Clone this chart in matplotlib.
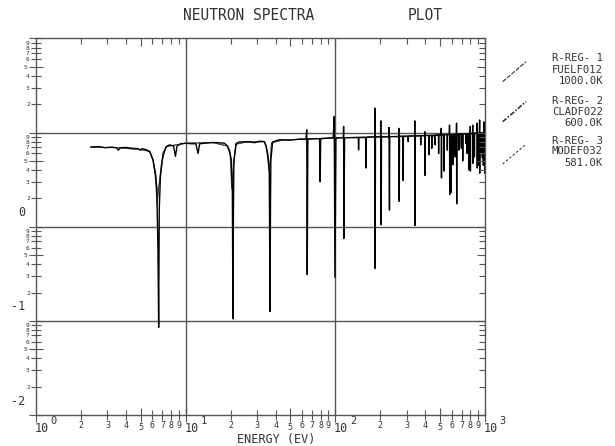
import matplotlib
matplotlib.use("Agg")
import matplotlib.pyplot as plt
from matplotlib.ticker import LogLocator, FuncFormatter
from matplotlib.lines import Line2D
import numpy as np

plt.rcParams["font.family"] = ["DejaVu Sans Mono", "DejaVu Sans"]

# region 1 (fuel) flux
energy_fuel = [
    2.33, 2.6, 2.9, 3.2, 3.45, 3.55, 3.65, 4.0, 4.4, 4.8, 5.0, 5.1, 5.4,
    5.75, 6.05, 6.31, 6.41, 6.53, 6.6, 6.66, 6.78, 7.06, 7.44, 7.8,
    8.3, 8.54, 8.76, 9.27, 10.0, 10.97, 11.7, 12.1, 12.4, 13.4, 15.6, 18.2,
    19.0, 19.6, 20.2, 20.5, 20.7, 20.85, 21.0, 21.8,
    22.9, 26.7, 28.8, 31.3, 33.6,
    34.6, 35.6, 36.2, 36.6, 36.9, 37.1, 38.1,
    42.2, 49.4, 57.5, 63.6, 64.4, 64.9, 65.5, 72.4, 78.5, 79.2, 79.8, 88.4,
    96.8, 98.3, 99.4, 100.9, 106.5, 113.2, 113.6, 114.0, 115.3,
    133.6, 142.4, 143.0, 143.6, 159.6, 160.2, 160.8, 177,
    183.2, 183.7, 184.6, 185.4, 200.5, 201.2, 202.5, 203.5,
    227.5, 228.3, 230.0, 231, 264.5, 265.5, 267, 268.5,
    283, 284, 285, 306, 307, 308, 338.5, 339.5, 341, 342.5,
    371, 372, 373, 395, 396.2, 398, 399.5, 422, 423, 424,
    440, 441, 442, 452, 463, 464, 465, 489, 490, 491,
    509, 510.2, 512, 513.5, 532, 533.2, 534.5, 559, 560, 561,
    578, 579.3, 581, 582.5, 590, 591, 592, 611, 612.2, 613.5,
    629, 630, 631, 644, 645.5, 647, 648.5, 669, 670, 671,
    694, 695, 696, 709, 710, 711, 742, 743, 744, 759, 760, 761,
    779, 780, 781, 796, 797.5, 799, 800.5, 826, 827.5, 829, 830.5,
    849, 850, 851, 885, 886.5, 888, 889.5, 904, 905, 906,
    919, 920.5, 922, 923.5, 939, 940, 941, 959, 960.2, 961.5,
    974, 975, 976, 984, 985.5, 987, 988.5, 994, 995, 996, 1000,
]
flux_fuel = [
    7.0, 7.1, 6.9, 7.0, 6.9, 6.5, 6.9, 6.95, 6.8, 6.75, 6.5, 6.75, 6.6,
    6.3, 5.1, 3.4, 2.5, 0.57, 0.085, 1.5, 3.4, 6.0, 7.1, 7.4,
    7.2, 5.6, 7.2, 7.6, 7.7, 7.6, 7.6, 6.0, 7.6, 7.7, 7.85, 7.7,
    7.2, 6.5, 5.1, 2.5, 0.105, 1.5, 5.1, 7.7,
    7.95, 8.0, 7.8, 8.1, 8.0,
    7.1, 5.1, 3.9, 0.126, 2.0, 5.1, 7.95,
    8.4, 8.3, 8.5, 8.5, 10.7, 0.31, 8.5, 8.6, 8.6, 3.0, 8.6, 8.7,
    8.8, 14.8, 0.29, 8.7, 8.8, 8.8, 11.6, 0.75, 8.8,
    8.85, 8.85, 6.55, 8.85, 8.85, 4.2, 8.9, 9.0,
    9.0, 18.2, 0.36, 9.0, 9.0, 13.3, 1.05, 9.0,
    9.0, 11.3, 1.5, 9.05, 9.05, 11.1, 1.86, 9.1,
    9.1, 3.1, 9.1, 9.1, 8.0, 9.15, 9.2, 13.3, 1.03, 9.2,
    9.2, 7.4, 9.25, 9.25, 10.2, 3.5, 9.3, 9.3, 5.8, 9.3,
    9.2, 6.8, 9.3, 9.2, 9.3, 7.4, 9.4, 9.4, 6.0, 9.4,
    9.4, 11.1, 3.3, 9.45, 9.45, 3.9, 9.5, 9.5, 6.5, 9.5,
    9.5, 12.0, 2.2, 9.5, 9.5, 2.3, 9.5, 9.5, 4.55, 9.55,
    9.55, 5.5, 9.55, 9.55, 12.6, 1.75, 9.6, 9.6, 6.5, 9.6,
    9.6, 6.8, 9.6, 9.6, 5.0, 9.6, 9.65, 7.7, 9.65, 9.65, 6.0, 9.65,
    9.7, 4.0, 9.7, 9.7, 11.6, 3.9, 9.7, 9.7, 12.0, 4.7, 9.75,
    9.75, 5.5, 9.8, 9.8, 12.6, 4.2, 9.8, 9.8, 4.5, 9.8,
    9.8, 13.6, 3.7, 9.85, 9.85, 6.0, 9.9, 9.9, 5.4, 9.9,
    9.9, 4.5, 9.9, 9.9, 13.0, 5.1, 9.95, 9.95, 3.7, 10.0, 10.0,
]

# region 2 (clad) and region 3 (moderator)
energy_clad = [2.33, 3.5, 5.0, 5.75, 6.05, 6.25, 6.45, 6.6, 6.9, 7.4, 10.0, 15.0,
               19.0, 19.8, 20.3, 20.8, 21.6, 25.0, 33.6, 35.3, 36.0, 36.5, 37.5,
               45.0, 60.0, 100.0, 200.0, 400.0, 1000.0]
flux_clad = [7.0, 6.9, 6.6, 6.3, 5.1, 3.6, 1.7, 2.6, 4.8, 7.1, 7.7, 7.85,
             7.2, 5.8, 2.5, 4.0, 7.5, 7.9, 8.0, 6.0, 3.9, 4.5, 7.8,
             8.35, 8.5, 8.8, 9.0, 9.3, 10.0]
energy_mod = [2.33, 3.5, 5.0, 5.75, 6.05, 6.3, 6.5, 6.7, 7.0, 7.4, 10.0, 15.0,
              19.0, 19.9, 20.4, 20.9, 21.6, 25.0, 33.6, 35.4, 36.1, 36.7, 37.5,
              45.0, 60.0, 100.0, 200.0, 400.0, 1000.0]
flux_mod = [7.0, 6.9, 6.6, 6.3, 5.2, 3.8, 2.1, 3.0, 5.2, 7.1, 7.7, 7.85,
            7.2, 6.0, 2.9, 4.4, 7.5, 7.9, 8.0, 6.2, 4.3, 4.9, 7.8,
            8.35, 8.5, 8.8, 9.0, 9.3, 10.0]

regions = ["R-REG- 1", "R-REG- 2", "R-REG- 3"]
materials = ["FUELF012", "CLADF022", "MODEF032"]
temps = ["1000.0K", "600.0K", "581.0K"]

x_decades = [1, 10, 100, 1000]
x_exps = ["0", "1", "2", "3"]
y_decades = [1, 0.1, 0.01]
y_exps = ["0", "-1", "-2"]

ink = "#333333"
axc = "#555555"


def digit(v, pos):
    m = v / 10 ** np.floor(np.log10(v) + 1e-9)
    return "" if m < 1.5 else f"{m:.0f}"


fig = plt.figure(figsize=(6.15, 4.46), dpi=100)
ax = fig.add_axes([36 / 615, 31 / 446, 449 / 615, 376.6 / 446])

ax.plot(energy_mod, flux_mod, color="#555555", lw=0.7)
ax.plot(energy_clad, flux_clad, color="#444444", lw=0.7)
ax.plot(energy_fuel, flux_fuel, color="black", lw=1.0)

ax.set_xscale("log")
ax.set_yscale("log")
ax.set_xlim(1, 1000)
ax.set_ylim(0.01, 100)

for v in [10, 100]:
    ax.axvline(v, color=axc, lw=1.0, zorder=0)
for v in [0.1, 1, 10]:
    ax.axhline(v, color=axc, lw=1.0, zorder=0)

for axis in [ax.xaxis, ax.yaxis]:
    axis.set_major_locator(LogLocator(base=10, subs=(1.0, 5.0), numticks=20))
    axis.set_minor_locator(LogLocator(base=10, subs=(2, 3, 4, 6, 7, 8, 9), numticks=20))
    axis.set_major_formatter(FuncFormatter(digit))
    axis.set_minor_formatter(FuncFormatter(digit))

ax.tick_params(which="major", direction="inout", length=10, width=0.8, color=axc)
ax.tick_params(which="minor", direction="inout", length=7, width=0.8, color=axc)
ax.tick_params(axis="x", which="both", labelsize=6, labelcolor=ink, pad=0.5)
ax.tick_params(axis="y", which="both", labelsize=4.5, labelcolor=ink, pad=1)
for s in ax.spines.values():
    s.set_color(axc)
    s.set_linewidth(1.0)

# inward ticks on top and right
axr = ax.twinx()
axr.set_yscale("log")
axr.set_ylim(ax.get_ylim())
axt = ax.twiny()
axt.set_xscale("log")
axt.set_xlim(ax.get_xlim())
for tw, axis in [(axr, axr.yaxis), (axt, axt.xaxis)]:
    axis.set_major_locator(LogLocator(base=10, subs=(1.0, 5.0), numticks=20))
    axis.set_minor_locator(LogLocator(base=10, subs=(2, 3, 4, 6, 7, 8, 9), numticks=20))
    tw.tick_params(which="major", direction="in", length=6, width=0.8, color=axc,
                   labelright=False, labeltop=False)
    tw.tick_params(which="minor", direction="in", length=4, width=0.8, color=axc,
                   labelright=False, labeltop=False)
    for s in tw.spines.values():
        s.set_visible(False)

for v, e in zip(x_decades, x_exps):
    ax.annotate("10", xy=(v, 0), xycoords=("data", "axes fraction"), xytext=(-1, -10),
                textcoords="offset points", ha="left", va="center", fontsize=8.5, color=ink)
    ax.annotate(e, xy=(v, 0), xycoords=("data", "axes fraction"), xytext=(12.8, -4),
                textcoords="offset points", ha="center", va="center", fontsize=7.5, color=ink)
for v, e in zip(y_decades, y_exps):
    ax.annotate(e, xy=(0, v), xycoords=("axes fraction", "data"), xytext=(-8, 10),
                textcoords="offset points", ha="right", va="center", fontsize=8.5, color=ink)

fig.text(183 / 615, 1 - 15 / 446, "NEUTRON SPECTRA", ha="left", va="center",
         fontsize=10.5, color=ink)
fig.text(408 / 615, 1 - 15 / 446, "PLOT", ha="left", va="center", fontsize=10.5, color=ink)
fig.text(236.7 / 615, 1 - 439.5 / 446, "ENERGY (EV)", ha="left", va="center",
         fontsize=8.5, color=ink)

# legend drawn beside the plot
line_styles = [(0, (4, 1.2)), (0, (3, 1, 1, 1)), (0, (2, 2))]
line_widths = [0.8, 1.2, 0.8]
line_y = [(81.7, 61.7), (121.7, 101.7), (164, 144.3)]
text_y = [(58.3, 70, 81.4), (101, 111.7, 123), (141, 151.5, 162.5)]
for i in range(3):
    y0, y1 = line_y[i]
    fig.add_artist(Line2D([502.7 / 615, 526 / 615], [1 - y0 / 446, 1 - y1 / 446],
                          transform=fig.transFigure, color=ink, lw=line_widths[i],
                          linestyle=line_styles[i]))
    for txt, ty in zip([regions[i], materials[i], temps[i]], text_y[i]):
        fig.text(603 / 615, 1 - ty / 446, txt, ha="right", va="center",
                 fontsize=7.6, color=ink)

fig.savefig("out.png", dpi=100)
